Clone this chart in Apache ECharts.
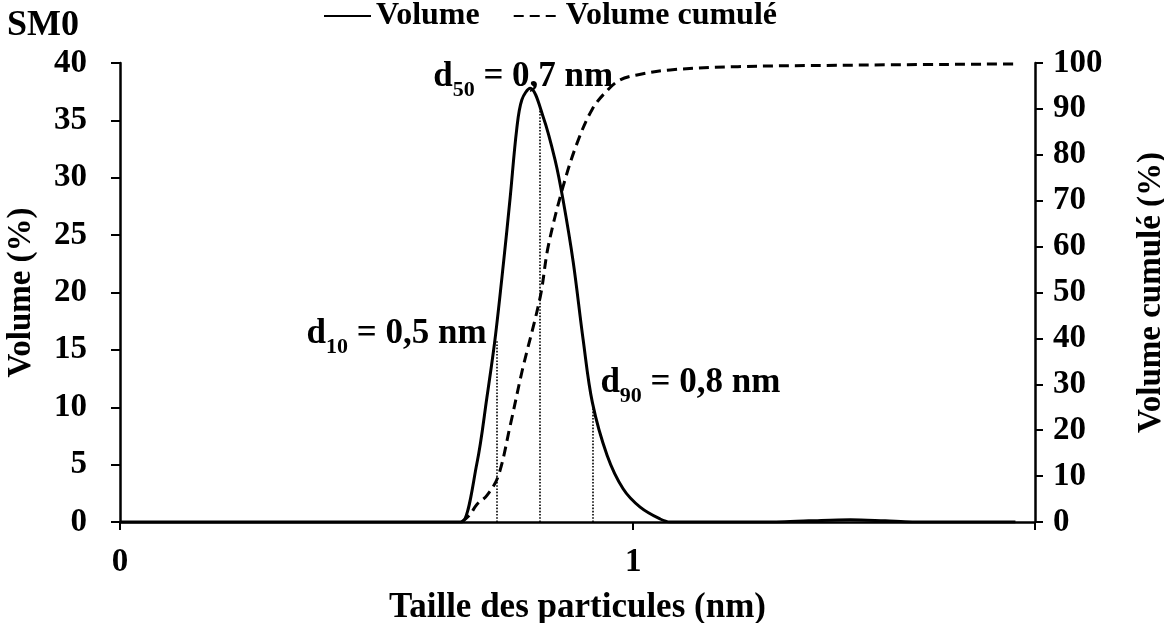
<!DOCTYPE html>
<html>
<head>
<meta charset="utf-8">
<script src="https://cdn.jsdelivr.net/npm/echarts@6/dist/echarts.min.js"></script>
<style>
  html, body { margin: 0; padding: 0; background: #fff; }
  #chart { width: 1164px; height: 623px; }
</style>
</head>
<body>
<div id="chart"></div>
<script>
// Particle size distribution of sample SM0 (sizes in nm, log scale)
const sizes  = [0.10, 0.45, 0.463, 0.496, 0.519, 0.538, 0.559, 0.576, 0.593, 0.607, 0.630,
                0.668, 0.705, 0.730, 0.764, 0.799, 0.833, 0.890, 0.956, 1.032,
                1.129, 1.181, 1.9, 2.2, 2.65, 3.1, 3.5, 5.56];
const volume = [0, 0, 0, 5.1, 10.9, 15.9, 22.6, 28.3, 34.2, 36.8, 37.8,
                35.3, 31.5, 28.1, 22.7, 15.9, 10.4, 5.8, 2.9, 1.3,
                0.26, 0, 0, 0.1, 0.2, 0.1, 0, 0];

const cumSizes  = [0.463, 0.480, 0.496, 0.519, 0.546, 0.576, 0.608, 0.659, 0.683, 0.730,
                   0.778, 0.833, 0.890, 0.943, 1.018, 1.181, 1.6, 2.5, 5.56];
const cumVolume = [0, 1.5, 3.8, 5.8, 10, 21, 33, 49, 60, 73,
                   82.6, 90, 94, 96.3, 97.4, 98.5, 99.2, 99.5, 99.8];

// Percentile diameters d10 / d50 / d90 and the Volume (%) reached at each
const dNames   = ['10', '50', '90'];
const dValues  = [0.542, 0.659, 0.833];
const dHeights = [15.9, 36.2, 10.4];

const seriesNames = ['Volume', 'Volume cumulé'];
const axisNames = { x: 'Taille des particules (nm)', yLeft: 'Volume (%)', yRight: 'Volume cumulé (%)' };
const chartTitle = 'SM0';

const FONT = "'Liberation Serif', 'Times New Roman', serif";
const bold = (size) => ({ fontFamily: FONT, fontWeight: 'bold', fontSize: size, color: '#000' });

// label placement of each percentile annotation relative to the top of its guide line
const dLabelPlacement = [
  { align: 'right',  offset: [-10, -5.5] },
  { align: 'center', offset: [-17, -29.5] },
  { align: 'left',   offset: [8, -19.5] }
];

const fmtNum = (v) => v.toFixed(1).replace('.', ',');

const chart = echarts.init(document.getElementById('chart'), null, { renderer: 'canvas' });

const axisLineStyle = { color: '#000', width: 2.5 };

chart.setOption({
  backgroundColor: '#fff',
  animation: false,
  title: {
    text: chartTitle,
    left: 2, top: 3,
    textStyle: bold(36)
  },
  legend: {
    data: seriesNames,
    left: 323, top: 0, padding: 0,
    itemWidth: 47, itemHeight: 14, itemGap: 33,
    itemStyle: { opacity: 0 },
    textStyle: bold(32)
  },
  grid: { left: 120, right: 129, top: 63, bottom: 101, containLabel: false, outerBoundsMode: 'none' },
  xAxis: {
    type: 'log', logBase: 10, min: 0.1, max: 6.07,
    name: axisNames.x, nameLocation: 'middle', nameGap: 68,
    nameTextStyle: bold(35),
    axisLine: { show: true, onZero: false, lineStyle: axisLineStyle },
    axisTick: { show: true, length: 8, lineStyle: { color: '#000', width: 2 } },
    axisLabel: {
      margin: 24, ...bold(33),
      formatter: (v) => {
        const l = Math.log10(v);
        return Math.abs(l - Math.round(l)) < 1e-6 ? String(Math.round(v)) : '';
      }
    },
    splitLine: { show: false }, minorTick: { show: false }
  },
  yAxis: [
    {
      type: 'value', min: 0, max: 40, interval: 5, position: 'left',
      name: axisNames.yLeft, nameLocation: 'middle', nameRotate: 90, nameGap: 82,
      nameTextStyle: bold(33),
      axisLine: { show: true, lineStyle: axisLineStyle },
      axisTick: { show: true, length: 9, lineStyle: { color: '#000', width: 2 } },
      axisLabel: { margin: 33, ...bold(33) },
      splitLine: { show: false }
    },
    {
      type: 'value', min: 0, max: 100, interval: 10, position: 'right',
      name: axisNames.yRight, nameLocation: 'middle', nameRotate: 90, nameGap: 100,
      nameTextStyle: bold(33),
      axisLine: { show: true, lineStyle: axisLineStyle },
      axisTick: { show: true, length: 8, lineStyle: { color: '#000', width: 2 } },
      axisLabel: { margin: 18, ...bold(33) },
      splitLine: { show: false }
    }
  ],
  series: [
    {
      name: seriesNames[0],
      type: 'line', yAxisIndex: 0,
      data: sizes.map((s, i) => [s, volume[i]]),
      showSymbol: false, symbol: 'none',
      smooth: 0.35,
      lineStyle: { color: '#000', width: 3 },
      itemStyle: { color: '#000' },
      z: 3,
      markLine: {
        silent: true, symbol: 'none', animation: false,
        label: { show: false },
        lineStyle: { type: 'dotted', color: '#000', width: 1.6 },
        data: dValues.map((d, i) => [{ coord: [d, 0] }, { coord: [d, dHeights[i]] }])
      },
      markPoint: {
        silent: true, symbol: 'circle', symbolSize: 1,
        itemStyle: { color: 'rgba(0,0,0,0)' },
        data: dValues.map((d, i) => ({
          coord: [d, dHeights[i]],
          label: {
            show: true, position: 'inside',
            align: dLabelPlacement[i].align,
            verticalAlign: 'middle',
            offset: dLabelPlacement[i].offset,
            formatter: '{d|d}{s|' + dNames[i] + '}{d| = ' + fmtNum(d) + ' nm}',
            rich: {
              d: { ...bold(35), verticalAlign: 'top', lineHeight: 35 },
              s: { ...bold(22), verticalAlign: 'top', lineHeight: 22, padding: [20, 0, 0, 0] }
            }
          }
        }))
      }
    },
    {
      name: seriesNames[1],
      type: 'line', yAxisIndex: 1,
      data: cumSizes.map((s, i) => [s, cumVolume[i]]),
      showSymbol: false, symbol: 'none',
      smooth: 0.35,
      lineStyle: { color: '#000', width: 3, type: [10, 6] },
      itemStyle: { color: '#000' },
      z: 2
    }
  ]
});
</script>
</body>
</html>
